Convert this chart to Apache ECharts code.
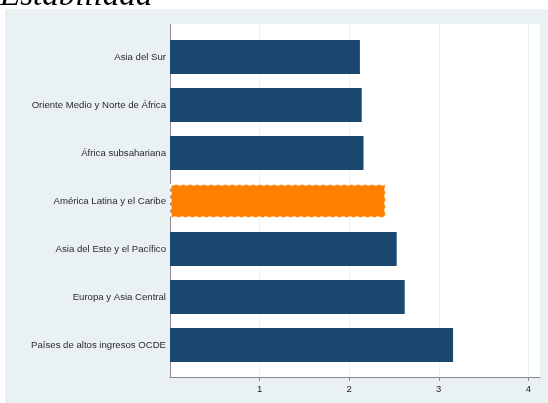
<!DOCTYPE html>
<html>
<head>
<meta charset="utf-8">
<script src="https://cdn.jsdelivr.net/npm/echarts@6/dist/echarts.min.js"></script>
<style>
html,body{margin:0;padding:0;background:#fff;}
#c{width:548px;height:403px;}
</style>
</head>
<body>
<div id="c"></div>
<script>
var titleText = 'Estabilidad';
var categories = [
  'Asia del Sur',
  'Oriente Medio y Norte de África',
  'África subsahariana',
  'América Latina y el Caribe',
  'Asia del Este y el Pacífico',
  'Europa y Asia Central',
  'Países de altos ingresos OCDE'
];
var values = [2.12, 2.14, 2.16, 2.41, 2.53, 2.62, 3.16];
var highlightCategory = 'América Latina y el Caribe';
var xTicks = [1, 2, 3, 4];

var chart = echarts.init(document.getElementById('c'), null, {renderer: 'canvas'});

var barData = categories.map(function (c, i) {
  if (c === highlightCategory) {
    return {
      value: values[i],
      itemStyle: {
        color: '#ff7f00',
        borderColor: '#ffffff',
        borderWidth: 1.5,
        borderType: [4, 3]
      }
    };
  }
  return {value: values[i]};
});

var option = {
  animation: false,
  backgroundColor: '#ffffff',
  textStyle: {fontFamily: 'Liberation Sans, Arial, sans-serif'},
  graphic: [
    {
      type: 'rect', z: -10,
      shape: {x: 5, y: 9, width: 543, height: 394},
      style: {fill: '#eaf1f3'}
    },
    {
      type: 'text', z: 10,
      x: 0, y: 13,
      style: {
        text: titleText,
        font: 'italic 33px "Liberation Serif", "Times New Roman", serif',
        fill: '#000',
        textVerticalAlign: 'bottom',
        verticalAlign: 'bottom'
      }
    }
  ],
  grid: [
    {left: 170, right: 8, top: 24, bottom: 26, show: true, backgroundColor: '#ffffff', borderWidth: 0},
    {left: 170, right: 8, top: 33, bottom: 34, show: false}
  ],
  xAxis: [
    {
      type: 'value', gridIndex: 0, min: 0, max: 4.13, interval: 1,
      axisLine: {show: true, lineStyle: {color: '#8a8a8a', width: 1}},
      axisTick: {show: true, length: 4, lineStyle: {color: '#8a8a8a'}, customValues: xTicks},
      axisLabel: {
        show: true, fontSize: 9.5, color: '#222', margin: 7,
        customValues: xTicks,
        formatter: function (v) { return String(v); }
      },
      splitLine: {show: true, lineStyle: {color: '#eef2f4', width: 1}}
    },
    {
      type: 'value', gridIndex: 1, min: 0, max: 4.13, interval: 1,
      show: false
    }
  ],
  yAxis: [
    {
      type: 'value', gridIndex: 0, min: 0, max: 1,
      axisLine: {show: true, lineStyle: {color: '#8a8a8a', width: 1}},
      axisTick: {show: false},
      axisLabel: {show: false},
      splitLine: {show: false}
    },
    {
      type: 'category', gridIndex: 1, data: categories, inverse: true,
      axisLine: {show: false},
      axisTick: {show: false},
      axisLabel: {fontSize: 9.6, color: '#2a2a2a', margin: 4},
      splitLine: {show: false}
    }
  ],
  series: [
    {
      type: 'bar',
      xAxisIndex: 1, yAxisIndex: 1,
      data: barData,
      barWidth: 34,
      itemStyle: {color: '#1a476f'}
    }
  ]
};
chart.setOption(option);
</script>
</body>
</html>
